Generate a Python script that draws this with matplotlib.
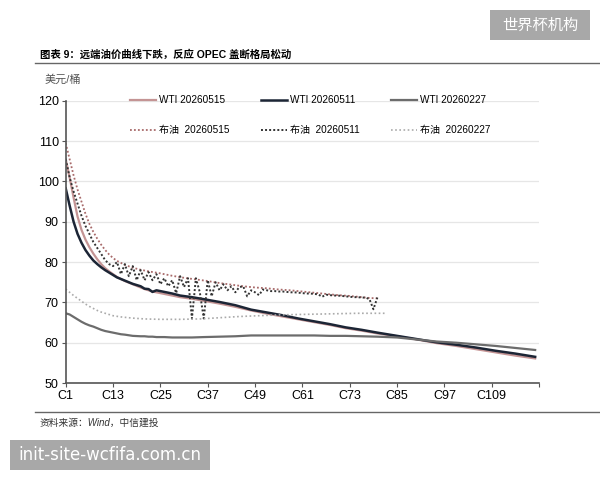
import matplotlib
matplotlib.use('Agg')
import matplotlib.pyplot as plt
from matplotlib.lines import Line2D
from matplotlib.patches import Rectangle

plt.rcParams['font.family'] = ['Liberation Sans', 'Noto Sans CJK SC']

# WTI curves (contract number, USD/bbl)
wti_x = [1, 2, 3, 4, 5, 6, 7, 8, 9, 10, 11, 12, 13, 14, 15, 16, 18, 20, 21, 22, 23, 24, 26, 28, 30,
         33, 36, 40, 44, 48, 52, 56, 60, 64, 68, 72, 76, 80, 85, 90, 95, 100, 105, 110, 115, 120]
wti_0515 = [105.5, 101.0, 96.0, 91.3, 88.0, 85.6, 83.7, 82.1, 80.7, 79.5, 78.5, 77.7, 77.0, 76.3, 75.8,
            75.3, 74.5, 73.7, 73.3, 73.0, 72.7, 72.5, 72.1, 71.7, 71.3,
            70.9, 70.4, 69.7, 68.9, 68.0, 67.2, 66.5, 65.8, 65.1, 64.4, 63.6, 63.0, 62.3, 61.6, 60.8,
            59.9, 59.2, 58.4, 57.6, 56.8, 56.1]
wti_0511 = [98.3, 94.0, 90.0, 87.0, 84.8, 83.0, 81.6, 80.4, 79.5, 78.7, 78.0, 77.4, 76.8, 76.2, 75.8,
            75.4, 74.6, 74.0, 73.4, 73.3, 72.6, 73.0, 72.6, 72.2, 71.7,
            71.3, 70.8, 70.1, 69.3, 68.2, 67.5, 66.8, 66.0, 65.3, 64.6, 63.8, 63.2, 62.5, 61.7, 60.9,
            60.1, 59.5, 58.8, 58.0, 57.3, 56.5]
wti_0227 = [67.3, 67.0, 66.4, 65.8, 65.2, 64.7, 64.3, 64.0, 63.6, 63.2, 62.9, 62.7, 62.5, 62.3, 62.1,
            62.0, 61.7, 61.6, 61.6, 61.5, 61.5, 61.4, 61.4, 61.3, 61.3,
            61.3, 61.4, 61.5, 61.6, 61.8, 61.8, 61.8, 61.8, 61.8, 61.7, 61.7, 61.6, 61.5, 61.3, 60.8,
            60.3, 60.0, 59.6, 59.2, 58.7, 58.2]

# Brent curves
brent_0515_x = [1, 2, 3, 4, 5, 6, 7, 8, 9, 10, 11, 12, 13, 14, 15, 16, 18, 20, 22, 25, 28, 31, 34, 37,
                40, 43, 46, 49, 52, 55, 58, 61, 64, 67, 70, 73, 76, 78, 80]
brent_0515 = [109.5, 105.5, 101.5, 98.0, 95.0, 92.0, 89.5, 87.5, 85.8, 84.3, 83.0, 81.9, 81.0, 80.3,
              79.8, 79.3, 78.6, 78.1, 77.7, 77.2, 76.6, 76.1, 75.7, 75.3, 74.8, 74.4, 74.0, 73.7,
              73.5, 73.2, 73.0, 72.7, 72.4, 72.1, 71.8, 71.6, 71.3, 71.1, 71.0]
brent_0511_x = list(range(1, 81))
brent_0511 = [105.5, 101.0, 97.5, 94.5, 91.5, 89.0, 87.0, 85.0, 83.5, 82.0,
              80.5, 79.5, 79.0, 80.0, 77.0, 79.5, 76.5, 79.0, 75.5, 78.0,
              75.5, 77.5, 75.5, 77.0, 74.5, 76.0, 74.0, 75.5, 72.3, 76.5,
              73.8, 76.0, 66.0, 76.0, 72.5, 66.0, 75.5, 71.5, 75.0, 73.0,
              74.5, 73.0, 74.0, 72.5, 73.8, 74.0, 71.5, 73.0, 72.5, 71.8,
              73.2, 73.0, 72.8, 72.8, 72.7, 72.7, 72.6, 72.5, 72.5, 72.4,
              72.3, 72.2, 72.2, 72.1, 72.0, 71.4, 71.9, 71.8, 71.7, 71.7,
              71.6, 71.5, 71.4, 71.3, 71.3, 71.2, 71.2, 70.8, 68.3, 71.2]
brent_0227_x = [1, 2, 3, 4, 5, 6, 7, 8, 9, 10, 11, 12, 13, 15, 18, 21, 25, 30, 35, 40, 45, 50, 55,
                60, 65, 70, 75, 82]
brent_0227 = [73.3, 72.5, 71.7, 71.0, 70.3, 69.6, 69.0, 68.5, 68.0, 67.6, 67.3, 67.0, 66.7, 66.4,
              66.1, 65.9, 65.8, 65.8, 65.9, 66.2, 66.5, 66.7, 66.9, 67.0, 67.1, 67.2, 67.3, 67.3]

tick_pos = [1, 13, 25, 37, 49, 61, 73, 85, 97, 109, 121]
tick_lab = ['C1', 'C13', 'C25', 'C37', 'C49', 'C61', 'C73', 'C85', 'C97', 'C109', '']

fig = plt.figure(figsize=(6, 4.8), dpi=100)
ax = fig.add_axes([0.1095, 0.202, 0.789, 0.588])

l1, = ax.plot(wti_x, wti_0515, color='#c49494', lw=1.6, label='WTI 20260515')
l2, = ax.plot(wti_x, wti_0511, color='#1c2535', lw=1.8, label='WTI 20260511')
l3, = ax.plot(wti_x, wti_0227, color='#6c6c6c', lw=1.6, label='WTI 20260227')
b1, = ax.plot(brent_0515_x, brent_0515, color='#a86a6a', lw=1.3, ls=(0, (1, 1.2)), label='布油  20260515')
b2, = ax.plot(brent_0511_x, brent_0511, color='#333333', lw=1.4, ls=(0, (1, 1.1)), label='布油  20260511')
b3, = ax.plot(brent_0227_x, brent_0227, color='#aaaaaa', lw=1.2, ls=(0, (1, 1.5)), label='布油  20260227')

ax.set_xlim(1, 121)
ax.set_ylim(50, 120)
ax.set_yticks(range(50, 121, 10))
ax.set_xticks(tick_pos)
ax.set_xticklabels(tick_lab)
ax.tick_params(labelsize=9, length=3, color='#555555', pad=2)
ax.grid(axis='y', color='#e6e6e6', lw=0.9)
ax.set_axisbelow(True)
for s in ['top', 'right']:
    ax.spines[s].set_visible(False)
for s in ['left', 'bottom']:
    ax.spines[s].set_color('#555555')
    ax.spines[s].set_linewidth(1.2)

ax.legend(handles=[l1, b1, l2, b2, l3, b3], ncol=3, frameon=False, loc='upper left',
          bbox_to_anchor=(0.128, 1.033), fontsize=7.2, handlelength=2.6, handletextpad=0.3,
          columnspacing=3.1, labelspacing=2.0, borderaxespad=0)

fig.text(40 / 600, 1 - 55 / 480, '图表 9：远端油价曲线下跌，反应 OPEC 盖断格局松动', fontsize=7.5,
         fontweight='bold', va='center', ha='left')
fig.add_artist(Line2D([35 / 600, 1.0], [1 - 63 / 480] * 2, color='#666666', lw=1.0))
fig.text(45 / 600, 1 - 80 / 480, '美元/桶', fontsize=8, color='#555555', va='center')
fig.add_artist(Line2D([35 / 600, 1.0], [1 - 412 / 480] * 2, color='#666666', lw=1.0))
fig.text(40 / 600, 1 - 423 / 480, '资料来源：Wind，中信建投', fontsize=7, style='italic',
         color='#333333', va='center')

# watermark boxes
fig.add_artist(Rectangle((490 / 600, 1 - 40 / 480), 100 / 600, 30 / 480, transform=fig.transFigure,
                         color='#a8a8a8', lw=0))
fig.text(540 / 600, 1 - 25 / 480, '世界杯机构', fontsize=11, color='white', ha='center', va='center',
         family=['Noto Sans CJK SC'])
fig.add_artist(Rectangle((10 / 600, 1 - 470 / 480), 200 / 600, 30 / 480, transform=fig.transFigure,
                         color='#a8a8a8', lw=0))
fig.text(110 / 600, 1 - 455 / 480, 'init-site-wcfifa.com.cn', fontsize=12, color='white',
         ha='center', va='center', family=['DejaVu Sans'])

fig.savefig('out.png', dpi=100)
